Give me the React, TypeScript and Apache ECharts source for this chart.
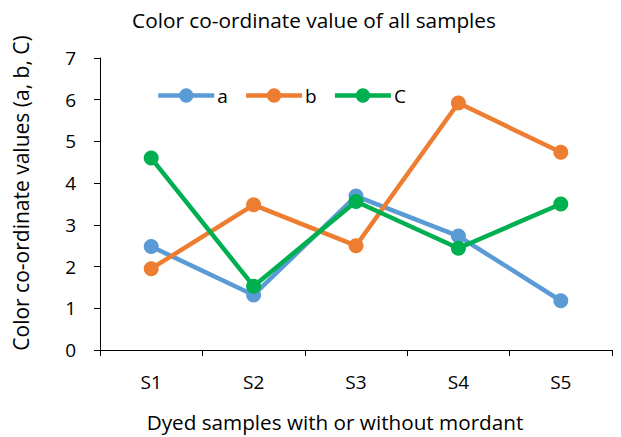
import React, { useEffect, useRef } from "react";
import * as echarts from "echarts";

const categories = ["S1", "S2", "S3", "S4", "S5"];
const seriesA = [2.48, 1.32, 3.69, 2.73, 1.18];
const seriesB = [1.95, 3.48, 2.5, 5.92, 4.74];
const seriesC = [4.6, 1.53, 3.56, 2.44, 3.5];
const seriesNames = ["a", "b", "C"];
const colors = ["#5B9BD5", "#ED7D31", "#00B050"];
const yAxisTitle = "Color co-ordinate values (a, b, C)";
const xAxisTitle = "Dyed samples with or without mordant";
const chartTitle = "Color co-ordinate value of all samples";

const FONT = "'Open Sans', 'Noto Sans', sans-serif";

export default function App() {
  const ref = useRef<HTMLDivElement>(null);
  useEffect(() => {
    document.body.style.margin = "0";
    if (!ref.current) return;
    const chart = echarts.init(ref.current, null, { renderer: "svg" });
    const values = [seriesA, seriesB, seriesC];
    const textBase = {
      fontFamily: FONT,
      fill: "#000",
      textAlign: "center",
      textVerticalAlign: "middle",
    };
    chart.setOption({
      animation: false,
      backgroundColor: "#ffffff",
      legend: {
        left: 151,
        top: 81,
        itemWidth: 56,
        itemHeight: 18,
        itemGap: 16,
        lineStyle: { width: 4.5 },
        textStyle: { fontFamily: FONT, fontSize: 19, color: "#000", padding: [0, 0, 0, -2] },
        data: seriesNames,
      },
      graphic: [
        {
          type: "text",
          x: 314,
          y: 20,
          style: { ...textBase, text: chartTitle, fontSize: 20.8 },
        },
        {
          type: "text",
          x: 335,
          y: 422,
          style: { ...textBase, text: xAxisTitle, fontSize: 20.7 },
        },
        {
          type: "text",
          x: 21,
          y: 193,
          rotation: Math.PI / 2,
          style: { ...textBase, text: yAxisTitle, fontSize: 21 },
        },
      ],
      grid: { left: 100, right: 9, top: 58, bottom: 87, containLabel: false },
      xAxis: {
        type: "category",
        data: categories,
        boundaryGap: true,
        axisLine: { lineStyle: { color: "#000", width: 1 } },
        axisTick: { show: true, length: 6, lineStyle: { color: "#000" } },
        axisLabel: { fontFamily: FONT, fontSize: 19, color: "#000", margin: 22 },
      },
      yAxis: {
        type: "value",
        min: 0,
        max: 7,
        interval: 1,
        axisLine: { show: true, lineStyle: { color: "#000", width: 1 } },
        axisTick: { show: true, length: 6, lineStyle: { color: "#000" } },
        axisLabel: { fontFamily: FONT, fontSize: 19, color: "#000", margin: 24 },
        splitLine: { show: false },
      },
      series: values.map((v, i) => ({
        name: seriesNames[i],
        type: "line",
        data: v,
        symbol: "circle",
        symbolSize: 15,
        lineStyle: { width: 4.5, color: colors[i] },
        itemStyle: { color: colors[i] },
        z: 2 + i,
      })),
    });
    return () => chart.dispose();
  }, []);
  return <div ref={ref} style={{ width: 621, height: 437 }} />;
}
